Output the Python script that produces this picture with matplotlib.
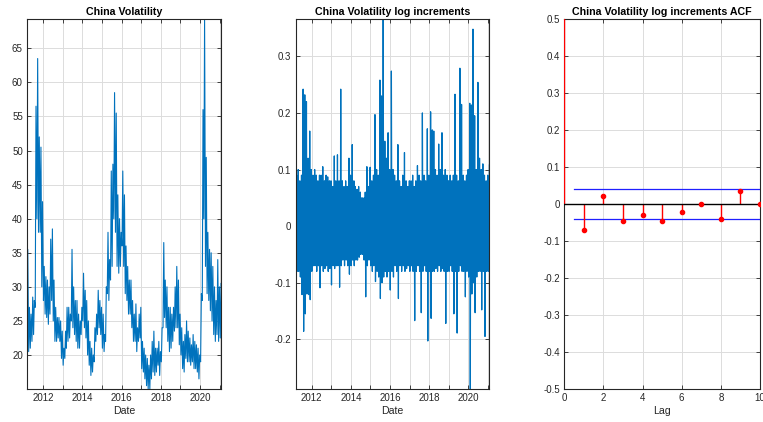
import numpy as np
import pandas as pd
import matplotlib
matplotlib.use("Agg")
import matplotlib.pyplot as plt
import matplotlib.dates as mdates
from matplotlib.ticker import FuncFormatter

plt.rcParams['font.family'] = ['Liberation Sans', 'DejaVu Sans']

# monthly months from Mar 2011 to Jan 2021
months = pd.date_range("2011-03-01", "2021-01-01", freq="MS")

# China volatility: monthly low / high
vol_lo = [21, 20.5, 21, 22, 23, 27, 40, 38, 38, 30,
          28, 26, 25.5, 24.5, 26, 28, 25, 22, 22, 22.5, 22, 19.5,
          18.5, 19.5, 21, 22, 22.5, 25, 24, 23, 22, 21, 21, 23,
          25, 24, 22.5, 20, 18.5, 17, 17.5, 19, 22, 23, 24, 23,
          21, 20.5, 22, 29, 28, 31, 33, 40, 38, 33, 32, 33,
          36, 33, 29, 28, 26, 26, 24, 22, 22, 20.5, 22, 22.5,
          18, 17.5, 16.5, 15.5, 15, 15, 16.5, 17.5, 17, 17.5, 18.5, 17,
          19, 24, 25.5, 24, 22, 20.5, 21, 22, 23.5, 24, 24, 21.5,
          20, 18, 17.5, 19.5, 19, 19, 18.5, 19, 18, 18, 17.5, 16.5,
          19, 28, 40, 33, 29, 28, 26.5, 25, 23, 22, 23, 22,
          22.5]
vol_hi = [35.5, 27, 26, 28.5, 28, 56.5, 63.5, 52, 50.5, 42.5,
          33, 31.5, 31, 30, 37, 38.5, 31, 27, 25.5, 25.5, 25, 23.5,
          21, 23.5, 27, 27, 26, 35.5, 30, 28, 28, 26, 25, 27,
          32, 29.5, 28, 25, 22, 21, 20, 24, 26, 29.5, 28, 27,
          26, 23, 30, 38, 34, 47, 48, 58.5, 55.5, 43.5, 40, 38,
          47, 43.5, 36, 33, 31, 31, 28, 26, 27.5, 24, 26, 27,
          22, 21, 20, 19.5, 18.5, 20, 22, 23.5, 21, 21, 22, 20.5,
          24, 36.5, 31, 30, 27, 27, 26, 27, 30, 33, 31, 26,
          24, 22, 23, 25, 23.5, 22.5, 21.5, 23, 22, 21.5, 21, 20,
          29, 56, 69.3, 49, 38, 35.5, 35, 33, 30, 28, 34, 30,
          30.5]

# log increments: monthly min / max
inc_hi = [0.09, 0.10, 0.08, 0.09, 0.242, 0.232, 0.22, 0.12, 0.168, 0.10,
          0.09, 0.10, 0.09, 0.08, 0.09, 0.09, 0.105, 0.08, 0.09, 0.087, 0.08, 0.08,
          0.07, 0.124, 0.08, 0.126, 0.08, 0.242, 0.08, 0.07, 0.08, 0.07, 0.12, 0.09,
          0.144, 0.08, 0.07, 0.065, 0.07, 0.06, 0.045, 0.04, 0.06, 0.105, 0.07, 0.104,
          0.08, 0.09, 0.197, 0.10, 0.09, 0.258, 0.23, 0.366, 0.15, 0.12, 0.165, 0.10,
          0.274, 0.10, 0.09, 0.08, 0.144, 0.08, 0.07, 0.09, 0.13, 0.08, 0.07, 0.08,
          0.08, 0.09, 0.07, 0.08, 0.107, 0.09, 0.08, 0.20, 0.09, 0.08, 0.172, 0.09,
          0.202, 0.17, 0.168, 0.10, 0.09, 0.145, 0.10, 0.165, 0.09, 0.10, 0.09, 0.08,
          0.09, 0.08, 0.09, 0.233, 0.09, 0.08, 0.279, 0.215, 0.09, 0.08, 0.09, 0.10,
          0.217, 0.214, 0.348, 0.195, 0.10, 0.254, 0.12, 0.10, 0.11, 0.09, 0.08, 0.09,
          0.108]
inc_lo = [-0.12, -0.08, -0.08, -0.09, -0.121, -0.186, -0.155, -0.12, -0.121, -0.13,
          -0.08, -0.07, -0.07, -0.08, -0.07, -0.109, -0.07, -0.08, -0.075, -0.07, -0.08, -0.075,
          -0.104, -0.07, -0.075, -0.07, -0.07, -0.108, -0.07, -0.06, -0.07, -0.06, -0.07, -0.085,
          -0.07, -0.06, -0.07, -0.06, -0.06, -0.055, -0.05, -0.05, -0.06, -0.125, -0.07, -0.06,
          -0.07, -0.08, -0.07, -0.098, -0.08, -0.09, -0.128, -0.10, -0.09, -0.08, -0.09, -0.08,
          -0.113, -0.08, -0.09, -0.07, -0.08, -0.128, -0.07, -0.08, -0.07, -0.08, -0.075, -0.07,
          -0.08, -0.07, -0.08, -0.167, -0.08, -0.07, -0.08, -0.153, -0.08, -0.07, -0.08, -0.203,
          -0.08, -0.163, -0.08, -0.08, -0.075, -0.08, -0.07, -0.08, -0.075, -0.08, -0.172, -0.08,
          -0.08, -0.07, -0.08, -0.155, -0.08, -0.189, -0.08, -0.07, -0.08, -0.08, -0.125, -0.08,
          -0.09, -0.288, -0.12, -0.10, -0.153, -0.09, -0.08, -0.08, -0.148, -0.08, -0.195, -0.08,
          -0.08]
# dense core of the increments band, per year 2011..2021
core_years = list(range(2011, 2022))
core_hi = [0.07, 0.07, 0.06, 0.05, 0.07, 0.06, 0.06, 0.07, 0.06, 0.07, 0.07]
core_lo = [-0.06, -0.06, -0.055, -0.045, -0.06, -0.06, -0.06, -0.06, -0.06, -0.065, -0.06]

# ACF of log increments
lags = np.arange(0, 11)
acf = [1.0, -0.071, 0.021, -0.046, -0.029, -0.047, -0.021, -0.001, -0.040, 0.034, 0.0]
conf = 0.04

BLUE = '#0072BD'
DARK = '#262626'

# two points per month (low, high) -> dense zigzag like the daily trace
dates = pd.to_datetime(np.column_stack([months + pd.Timedelta(days=9),
                                        months + pd.Timedelta(days=23)]).ravel())
vol = np.column_stack([vol_lo, vol_hi]).ravel()

# four points per month for the increments
core_hi_m = pd.Series(core_hi, index=core_years).loc[months.year].values
core_lo_m = pd.Series(core_lo, index=core_years).loc[months.year].values
inc_dates = pd.to_datetime(np.column_stack([months + pd.Timedelta(days=d)
                                            for d in (5, 12, 19, 26)]).ravel())
inc = np.column_stack([inc_lo, core_hi_m, core_lo_m, inc_hi]).ravel()

fig = plt.figure(figsize=(7.63, 4.22), dpi=100)
ax1 = fig.add_axes([0.0354, 0.078, 0.2543, 0.877])
ax2 = fig.add_axes([0.3875, 0.078, 0.2537, 0.877])
ax3 = fig.add_axes([0.7396, 0.078, 0.2565, 0.877])

fmt = FuncFormatter(lambda v, _: f"{round(v, 2) + 0:g}")


def style(ax):
    ax.set_axisbelow(True)
    ax.grid(True, which='both', color='#dcdcdc', linewidth=0.7)
    ax.tick_params(which='both', direction='in', top=True, right=True,
                   length=3, width=0.6, labelsize=7, colors=DARK, pad=3)
    for s in ax.spines.values():
        s.set_linewidth(0.8)
        s.set_color(DARK)


def date_axis(ax):
    ax.xaxis.set_major_locator(mdates.YearLocator(2))
    ax.xaxis.set_minor_locator(mdates.YearLocator(1))
    ax.xaxis.set_major_formatter(mdates.DateFormatter('%Y'))
    ax.set_xlim(dates[0], dates[-1])
    ax.set_xlabel('Date', fontsize=7.6, color=DARK, labelpad=2)


# panel 1
ax1.plot(dates, vol, color=BLUE, lw=0.8)
style(ax1)
date_axis(ax1)
ax1.set_ylim(min(vol_lo), max(vol_hi))
ax1.set_yticks(np.arange(20, 66, 5))
ax1.yaxis.set_major_formatter(fmt)
ax1.set_title('China Volatility', fontsize=7.7, fontweight='bold', pad=3)

# panel 2
ax2.plot(inc_dates, inc, color=BLUE, lw=0.9)
style(ax2)
date_axis(ax2)
ax2.set_ylim(min(inc_lo), max(inc_hi))
ax2.set_yticks([-0.2, -0.1, 0, 0.1, 0.2, 0.3])
ax2.yaxis.set_major_formatter(fmt)
ax2.set_title('China Volatility log increments', fontsize=7.7, fontweight='bold', pad=3)

# panel 3
ax3.vlines(lags, 0, acf, color='red', lw=1.0, zorder=3)
ax3.plot(lags, acf, 'o', color='red', markersize=3, zorder=4)
ax3.plot([0, 10], [0, 0], color='black', lw=1.0, zorder=3)
ax3.plot([0.5, 10], [conf, conf], color='#1f1fff', lw=0.9)
ax3.plot([0.5, 10], [-conf, -conf], color='#1f1fff', lw=0.9)
style(ax3)
ax3.set_xlim(0, 10)
ax3.set_ylim(-0.5, 0.5)
ax3.set_xticks(np.arange(0, 11, 2))
ax3.set_yticks(np.arange(-0.5, 0.51, 0.1))
ax3.yaxis.set_major_formatter(fmt)
ax3.set_xlabel('Lag', fontsize=7.6, color=DARK, labelpad=2)
ax3.set_title('China Volatility log increments ACF', fontsize=7.7, fontweight='bold', pad=3)

fig.savefig('out.png', dpi=100)
